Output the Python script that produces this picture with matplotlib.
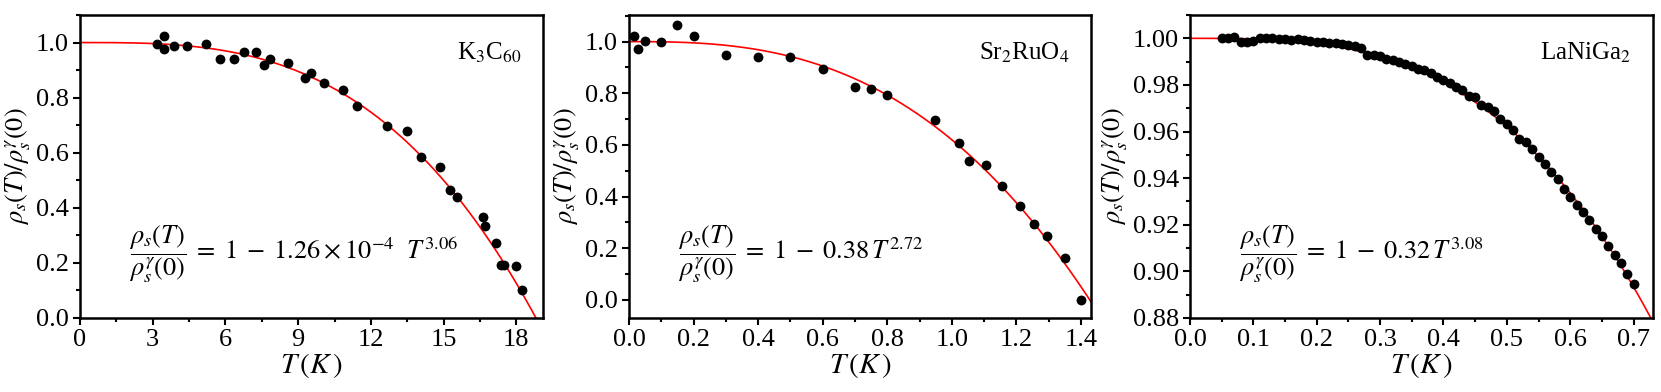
import numpy as np
import matplotlib
matplotlib.use("Agg")
import matplotlib.pyplot as plt
from matplotlib.ticker import MultipleLocator, FormatStrFormatter

plt.rcParams['font.family'] = ['Liberation Serif', 'DejaVu Serif']
plt.rcParams['mathtext.fontset'] = 'stix'

# K3C60
t_k3c60 = [3.16, 3.46, 3.46, 3.89, 4.43, 5.21, 5.78, 6.36, 6.76, 7.25, 7.57, 7.84,
           8.60, 9.28, 9.51, 10.08, 10.87, 11.42, 12.67, 13.51, 14.06, 14.87, 15.27,
           15.56, 16.63, 16.72, 17.18, 17.36, 17.48, 18.0, 18.24]
r_k3c60 = [0.996, 1.023, 0.976, 0.987, 0.987, 0.993, 0.942, 0.942, 0.964, 0.964, 0.920,
           0.940, 0.924, 0.873, 0.890, 0.854, 0.827, 0.769, 0.698, 0.680, 0.583, 0.550,
           0.463, 0.441, 0.368, 0.335, 0.272, 0.193, 0.193, 0.187, 0.100]

# Sr2RuO4
t_sro = [0.014, 0.029, 0.051, 0.10, 0.15, 0.20, 0.30, 0.40, 0.50, 0.60, 0.70, 0.75,
         0.80, 0.947, 1.021, 1.052, 1.106, 1.154, 1.21, 1.254, 1.296, 1.351, 1.40]
r_sro = [1.023, 0.973, 1.003, 0.997, 1.065, 1.020, 0.949, 0.940, 0.940, 0.893, 0.824,
         0.815, 0.795, 0.698, 0.606, 0.537, 0.521, 0.440, 0.364, 0.293, 0.246, 0.162, 0.0]

# LaNiGa2
t_lng = [0.05, 0.06, 0.07, 0.08, 0.09, 0.10, 0.11, 0.12, 0.13, 0.14, 0.15, 0.16, 0.17,
         0.18, 0.19, 0.20, 0.21, 0.22, 0.23, 0.24, 0.25, 0.26, 0.27, 0.28, 0.29, 0.30,
         0.31, 0.32, 0.33, 0.34, 0.35, 0.36, 0.37, 0.38, 0.39, 0.40, 0.41, 0.42, 0.43,
         0.44, 0.45, 0.46, 0.47, 0.48, 0.49, 0.50, 0.51, 0.52, 0.53, 0.54, 0.55, 0.56,
         0.57, 0.58, 0.59, 0.60, 0.61, 0.62, 0.63, 0.64, 0.65, 0.66, 0.67, 0.68, 0.69, 0.70]
r_lng = [1.0000, 1.0000, 1.0005, 0.9985, 0.9983, 0.9987, 1.0002, 1.0003, 1.0001, 0.9999,
         0.9996, 0.9993, 0.9995, 0.9994, 0.9990, 0.9985, 0.9983, 0.9980, 0.9978, 0.9974,
         0.9970, 0.9965, 0.9960, 0.9930, 0.9928, 0.9922, 0.9913, 0.9905, 0.9898, 0.9890,
         0.9880, 0.9870, 0.9862, 0.9850, 0.9835, 0.9822, 0.9808, 0.9790, 0.9780, 0.9752,
         0.9748, 0.9715, 0.9705, 0.9688, 0.9655, 0.9632, 0.9605, 0.9570, 0.9555, 0.9525,
         0.9490, 0.9462, 0.9428, 0.9395, 0.9355, 0.9320, 0.9285, 0.9255, 0.9220, 0.9182,
         0.9150, 0.9110, 0.9072, 0.9035, 0.8990, 0.8948]

# fit parameters: rho = 1 - a * T^b
fit_a = [1.26e-4, 0.38, 0.32]
fit_b = [3.06, 2.72, 3.08]

names = [r'K$_3$C$_{60}$', r'Sr$_2$RuO$_4$', r'LaNiGa$_2$']
frac = r'\dfrac{\rho_s(T)}{\rho_s^{\gamma}(0)}'
formulas = [r'$' + frac + r'\;=\;1\;-\;1.26\times10^{-4}\ \ T^{3.06}$',
            r'$' + frac + r'\;=\;1\;-\;0.38\,T^{2.72}$',
            r'$' + frac + r'\;=\;1\;-\;0.32\,T^{3.08}$']

fig = plt.figure(figsize=(16.61, 3.92), dpi=100)
W, H = 1661, 392
boxes = [(80, 543), (629, 1091), (1190, 1653)]
top, bot = 15, 318
axes = [fig.add_axes([l / W, (H - bot) / H, (r - l) / W, (bot - top) / H]) for l, r in boxes]

xs = [t_k3c60, t_sro, t_lng]
ys = [r_k3c60, r_sro, r_lng]
xlims = [(0, 19.1), (0, 1.431), (0, 0.7307)]
ylims = [(0, 1.1), (-0.07, 1.103), (0.88, 1.01)]
xmaj = [3, 0.2, 0.1]
ymaj = [0.2, 0.2, 0.02]
yfmt = ['%.1f', '%.1f', '%.2f']
xfmt = ['%d', '%.1f', '%.1f']

for i, ax in enumerate(axes):
    tt = np.linspace(0, xlims[i][1], 400)
    ax.plot(tt, 1 - fit_a[i] * tt ** fit_b[i], color='red', lw=1.2, zorder=2)
    ax.scatter(xs[i], ys[i], s=50, color='black', zorder=3, linewidths=0)
    ax.set_xlim(*xlims[i])
    ax.set_ylim(*ylims[i])
    ax.xaxis.set_major_locator(MultipleLocator(xmaj[i]))
    ax.xaxis.set_minor_locator(MultipleLocator(xmaj[i] / 2))
    ax.yaxis.set_major_locator(MultipleLocator(ymaj[i]))
    ax.yaxis.set_minor_locator(MultipleLocator(ymaj[i] / 2))
    ax.xaxis.set_major_formatter(FormatStrFormatter(xfmt[i]))
    ax.yaxis.set_major_formatter(FormatStrFormatter(yfmt[i]))
    ax.tick_params(which='both', direction='out', width=1.5, labelsize=19,
                   top=False, right=False, pad=3)
    ax.tick_params(which='major', length=5)
    ax.tick_params(which='minor', length=3)
    for sp in ax.spines.values():
        sp.set_linewidth(1.8)
    ax.set_xlabel(r'$T\,(K\,)$', fontsize=21, labelpad=0)
    ax.set_ylabel(r'$\rho_s(T)/\rho_s^{\gamma}(0)$', fontsize=19, labelpad=2)
    ax.text(0.953, 0.875, names[i], transform=ax.transAxes, ha='right', va='center',
            fontsize=18)
    ax.text(0.105, 0.211, formulas[i], transform=ax.transAxes, ha='left', va='center',
            fontsize=19)

fig.savefig('out.png', dpi=100)
